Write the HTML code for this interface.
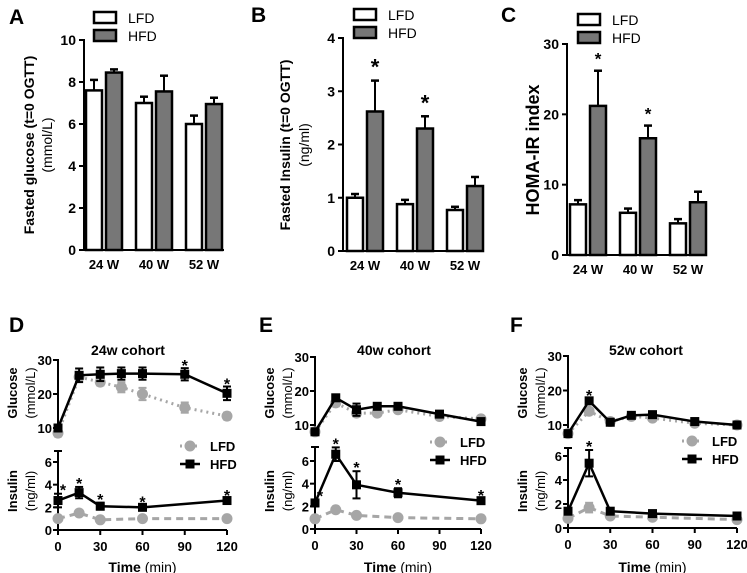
<!DOCTYPE html>
<html><head><meta charset="utf-8">
<style>
html,body{margin:0;padding:0;background:#fff}
svg{display:block;font-family:"Liberation Sans",sans-serif}
</style></head>
<body>
<svg id="fig" width="747" height="573" viewBox="0 0 747 573" xmlns="http://www.w3.org/2000/svg"></svg>
<script>
// ---- bar chart data ----
const barCats = ["24 W","40 W","52 W"];
const glucLFD = [7.6,7.0,6.0], glucLFDErr = [0.5,0.3,0.4];
const glucHFD = [8.45,7.55,6.95], glucHFDErr = [0.15,0.75,0.3];
const insLFD = [1.0,0.88,0.77], insLFDErr = [0.07,0.08,0.06];
const insHFD = [2.62,2.3,1.22], insHFDErr = [0.58,0.23,0.17];
const homaLFD = [7.2,6.0,4.5], homaLFDErr = [0.6,0.6,0.6];
const homaHFD = [21.2,16.6,7.5], homaHFDErr = [5.0,1.8,1.5];
const glucTicks = [0,2,4,6,8,10], insTicks = [0,1,2,3,4], homaTicks = [0,10,20,30];
const insStars = [true,true,false], homaStars = [true,true,false];
// ---- OGTT data ----
const times = [0,15,30,45,60,90,120];
const insTimes = [0,15,30,60,120];
const dGlucLFD = [8.5,25,23.5,22,20,16,13.5], dGlucLFDErr=[1,1,1,1.5,1.8,1.5,1];
const dGlucHFD = [10,25.5,25.8,26,26,25.8,20.2], dGlucHFDErr=[0.8,2,2,1.8,1.8,1.8,2];
const dInsLFD = [1.0,1.5,0.9,1.0,1.0], dInsLFDErr=[0.2,0.2,0.1,0.1,0.1];
const dInsHFD = [2.6,3.3,2.1,2.0,2.6], dInsHFDErr=[0.6,0.5,0.3,0.15,0.15];
const eGlucLFD = [8,16.5,13.5,13.5,14.5,12.5,11.8], eGlucLFDErr=[0.5,1,1,0.5,0.5,0.5,0.5];
const eGlucHFD = [8,18,14.5,15.5,15.5,13.2,11], eGlucHFDErr=[0.5,0.8,1.8,0.8,0.8,0.5,0.5];
const eInsLFD = [0.9,1.7,1.2,1.0,0.9], eInsLFDErr=[0.1,0.2,0.1,0.1,0.1];
const eInsHFD = [2.3,6.6,3.9,3.2,2.5], eInsHFDErr=[0.3,0.6,1.2,0.4,0.15];
const fGlucLFD = [7.5,14,11,12.5,12,10.5,10], fGlucLFDErr=[0.5,0.8,0.5,0.5,0.5,0.5,0.5];
const fGlucHFD = [7.5,17,10.8,12.8,13,11,10], fGlucHFDErr=[0.5,0.8,0.8,0.6,0.6,0.5,0.5];
const fInsLFD = [0.8,1.7,1.0,0.9,0.7], fInsLFDErr=[0.1,0.4,0.1,0.1,0.1];
const fInsHFD = [1.4,5.4,1.4,1.2,1.0], fInsHFDErr=[0.2,1.1,0.15,0.15,0.15];
const timeTicks = [0,30,60,90,120];

const NS="http://www.w3.org/2000/svg";
const svg=document.getElementById('fig');
function mk(tag,attrs,parent,txt){const e=document.createElementNS(NS,tag);for(const k in attrs)e.setAttribute(k,attrs[k]);if(txt!==undefined)e.textContent=txt;(parent||svg).appendChild(e);return e;}
function text(x,y,s,size,weight,anchor,name,rot){
  const t=mk('text',{x:x,y:y,'font-size':size,'font-weight':weight||'bold','text-anchor':anchor||'middle',fill:'#000'},null,s);
  if(rot)t.setAttribute('transform','rotate(-90 '+x+' '+y+')');
  
  
  return t;
}
function line(x1,y1,x2,y2,w,col,name,dash){
  const l=mk('line',{x1:x1,y1:y1,x2:x2,y2:y2,stroke:col||'#000','stroke-width':w||2});
  if(dash)l.setAttribute('stroke-dasharray',dash);
  
  
  return l;
}

function barPanel(o){
  const sy=v=>o.y0-(v/o.ymax)*(o.y0-o.ytop);
  line(o.ax,o.ytop-1,o.ax,o.y0+1,2,'#000',o.id+'-y-axis');
  line(o.ax-1,o.y0,o.ax+140,o.y0,2,'#000',o.id+'-x-axis');
  o.ticks.forEach(t=>{
    line(o.ax-5,sy(t),o.ax,sy(t),2,'#000',o.id+'-y-tick');
    text(o.ax-8,sy(t)+5,String(t),14,'bold','end',o.id+'-y-tick-label');
  });
  barCats.forEach((c,i)=>{
    const cx=o.c0+i*50;
    const series=[[o.lfd,o.lfdE,'#fff',cx-18,'lfd'],[o.hfd,o.hfdE,'#777',cx+2,'hfd']];
    series.forEach(([vals,errs,fill,x,nm])=>{
      const top=sy(vals[i]);
      line(x+8,sy(vals[i]+errs[i]),x+8,top,2,'#000',o.id+'-error-bar');
      line(x+4,sy(vals[i]+errs[i]),x+12,sy(vals[i]+errs[i]),2.5,'#000',o.id+'-error-cap');
      const r=mk('rect',{x:x,y:top,width:16,height:o.y0-top,fill:fill,stroke:'#000','stroke-width':2.5});
      
      
    });
    if(o.stars&&o.stars[i]){text(cx+10,sy(o.hfd[i]+o.hfdE[i])-6,'*',o.starSize,'bold','middle',o.id+'-significance-star');}
    text(cx,o.y0+19,c,13,'bold','middle',o.id+'-x-tick-label');
  });
  [['LFD','#fff',o.ly],['HFD','#777',o.ly+18]].forEach(([n,f,y])=>{
    const r=mk('rect',{x:o.lx,y:y,width:22,height:11,fill:f,stroke:'#000','stroke-width':2.5});
    
    
    text(o.lx+34,y+11,n,14,'normal','start','legend-label-'+n.toLowerCase());
  });
  text(o.lx0,o.ly0,o.letter,21,'bold','start','panel-label-'+o.letter.toLowerCase());
}

barPanel({id:'panel-a',letter:'A',lx0:9,ly0:24,ax:84,y0:250,ytop:40,ymax:10,ticks:glucTicks,c0:104,lfd:glucLFD,lfdE:glucLFDErr,hfd:glucHFD,hfdE:glucHFDErr,lx:94,ly:12});
text(34,145,'Fasted glucose (t=0 OGTT)',14,'bold','middle','panel-a-y-axis-title',true);
text(52,145,'(mmol/L)',14,'normal','middle','panel-a-y-axis-unit',true);
barPanel({id:'panel-b',letter:'B',lx0:251,ly0:22,ax:343,y0:251,ytop:38,ymax:4,ticks:insTicks,c0:365,lfd:insLFD,lfdE:insLFDErr,hfd:insHFD,hfdE:insHFDErr,stars:insStars,starSize:22,lx:354,ly:9});
text(290,145,'Fasted Insulin (t=0 OGTT)',14,'bold','middle','panel-b-y-axis-title',true);
text(309,145,'(ng/ml)',14,'normal','middle','panel-b-y-axis-unit',true);
barPanel({id:'panel-c',letter:'C',lx0:501,ly0:22,ax:567,y0:255,ytop:44,ymax:30,ticks:homaTicks,c0:588,lfd:homaLFD,lfdE:homaLFDErr,hfd:homaHFD,hfdE:homaHFDErr,stars:homaStars,starSize:17,lx:578,ly:14});
text(539,150,'HOMA-IR index',18,'bold','middle','panel-c-y-axis-title',true);

function ogtt(o){
  const sx=t=>o.x0+t/120*(o.x1-o.x0);
  const gy=v=>o.g10-(v-10)/20*(o.g10-o.g30);
  const iy=v=>o.i0-v/6*(o.i0-o.i6);
  line(o.x0,o.g30-1,o.x0,o.g10+4,2,'#000',o.id+'-glucose-y-axis');
  [10,20,30].forEach(t=>{line(o.x0-5,gy(t),o.x0,gy(t),2,'#000',o.id+'-glucose-tick');text(o.x0-6,gy(t)+5,String(t),13,'bold','end',o.id+'-glucose-tick-label');});
  line(o.x0,o.itop,o.x0,o.i0+1,2,'#000',o.id+'-insulin-y-axis');
  line(o.x0-4,o.itop,o.x0+4,o.itop,2,'#000',o.id+'-insulin-axis-cap');
  [0,2,4,6].forEach(t=>{line(o.x0-5,iy(t),o.x0,iy(t),2,'#000',o.id+'-insulin-tick');text(o.x0-6,iy(t)+5,String(t),13,'bold','end',o.id+'-insulin-tick-label');});
  line(o.x0-1,o.i0,o.x1,o.i0,2,'#000',o.id+'-x-axis');
  timeTicks.forEach(t=>{line(sx(t),o.i0,sx(t),o.i0+5,2,'#000',o.id+'-x-tick');text(sx(t),o.i0+21,String(t),13,'bold','middle',o.id+'-x-tick-label');});
  function series(xs,vals,errs,y,col,dash,shape,nm){
    const p=mk('polyline',{points:xs.map((t,i)=>sx(t)+','+y(vals[i])).join(' '),fill:'none',stroke:col,'stroke-width':shape==='sq'?2.5:3});
    if(dash)p.setAttribute('stroke-dasharray',dash);
    
    
    xs.forEach((t,i)=>{
      const X=sx(t),Y1=y(vals[i]+errs[i]),Y2=y(vals[i]-errs[i]);
      line(X,Y1,X,Y2,2,col,o.id+'-'+nm+'-error-bar');
      line(X-4,Y1,X+4,Y1,2,col,o.id+'-'+nm+'-error-cap');
      line(X-4,Y2,X+4,Y2,2,col,o.id+'-'+nm+'-error-cap');
      let m;
      if(shape==='sq')m=mk('rect',{x:X-4.5,y:y(vals[i])-4.5,width:9,height:9,fill:col});
      else m=mk('circle',{cx:X,cy:y(vals[i]),r:5.5,fill:col});
      
      
    });
  }
  series(times,o.gl,o.glE,gy,'#a6a6a6','2,4','c','glucose-lfd');
  series(times,o.gh,o.ghE,gy,'#000',null,'sq','glucose-hfd');
  series(insTimes,o.il,o.ilE,iy,'#a6a6a6','7,5','c','insulin-lfd');
  series(insTimes,o.ih,o.ihE,iy,'#000',null,'sq','insulin-hfd');
  o.gStars.forEach(t=>{const k=times.indexOf(t);text(sx(t),gy(o.gh[k]+o.ghE[k])+3,'*',16,'bold','middle',o.id+'-glucose-star');});
  o.iStars.forEach(t=>{const k=insTimes.indexOf(t);text(sx(t)+(t===0?5:0),iy(o.ih[k]+o.ihE[k])+2,'*',16,'bold','middle',o.id+'-insulin-star');});
  line(o.lx-10,o.ly,o.lx+10,o.ly,3,'#a6a6a6',o.id+'-legend-lfd-line','2,3');
  const c=mk('circle',{cx:o.lx,cy:o.ly,r:5.5,fill:'#a6a6a6'});
  
  
  text(o.lx+20,o.ly+5,'LFD',13,'bold','start',o.id+'-legend-lfd-label');
  line(o.lx-10,o.ly+18,o.lx+10,o.ly+18,2.5,'#000',o.id+'-legend-hfd-line');
  const s=mk('rect',{x:o.lx-4.5,y:o.ly+13.5,width:9,height:9,fill:'#000'});
  
  
  text(o.lx+20,o.ly+23,'HFD',13,'bold','start',o.id+'-legend-hfd-label');
  text(o.titleX,355,o.title,14,'bold','middle',o.id+'-title');
  text(o.letterX,332,o.letter,21,'bold','start','panel-label-'+o.letter.toLowerCase());
  const tx=(o.x0+o.x1)/2;
  const tt=mk('text',{x:tx,y:572,'font-size':14,'text-anchor':'middle','font-weight':'bold'});
  
  
  tt.innerHTML='Time <tspan font-weight="normal">(min)</tspan>';
  text(o.x0-41,393,'Glucose',13,'bold','middle',o.id+'-glucose-axis-title',true);
  text(o.x0-23,393,'(mmol/L)',13,'normal','middle',o.id+'-glucose-axis-unit',true);
  text(o.x0-41,491,'Insulin',13,'bold','middle',o.id+'-insulin-axis-title',true);
  text(o.x0-23,491,'(ng/ml)',13,'normal','middle',o.id+'-insulin-axis-unit',true);
}
ogtt({id:'panel-d',letter:'D',letterX:9,titleX:128,title:'24w cohort',x0:58,x1:227,g30:360,g10:428,i0:530,i6:462,itop:451,
  gl:dGlucLFD,glE:dGlucLFDErr,gh:dGlucHFD,ghE:dGlucHFDErr,il:dInsLFD,ilE:dInsLFDErr,ih:dInsHFD,ihE:dInsHFDErr,
  gStars:[90,120],iStars:[0,15,30,60,120],lx:190,ly:446});
ogtt({id:'panel-e',letter:'E',letterX:259,titleX:394,title:'40w cohort',x0:315,x1:481,g30:357,g10:425,i0:529,i6:461,itop:447,
  gl:eGlucLFD,glE:eGlucLFDErr,gh:eGlucHFD,ghE:eGlucHFDErr,il:eInsLFD,ilE:eInsLFDErr,ih:eInsHFD,ihE:eInsHFDErr,
  gStars:[],iStars:[0,15,30,60,120],lx:440,ly:442});
ogtt({id:'panel-f',letter:'F',letterX:510,titleX:646,title:'52w cohort',x0:568,x1:737,g30:356,g10:425,i0:528,i6:456,itop:448,
  gl:fGlucLFD,glE:fGlucLFDErr,gh:fGlucHFD,ghE:fGlucHFDErr,il:fInsLFD,ilE:fInsLFDErr,ih:fInsHFD,ihE:fInsHFDErr,
  gStars:[15],iStars:[15],lx:692,ly:441});
</script>
</body></html>
